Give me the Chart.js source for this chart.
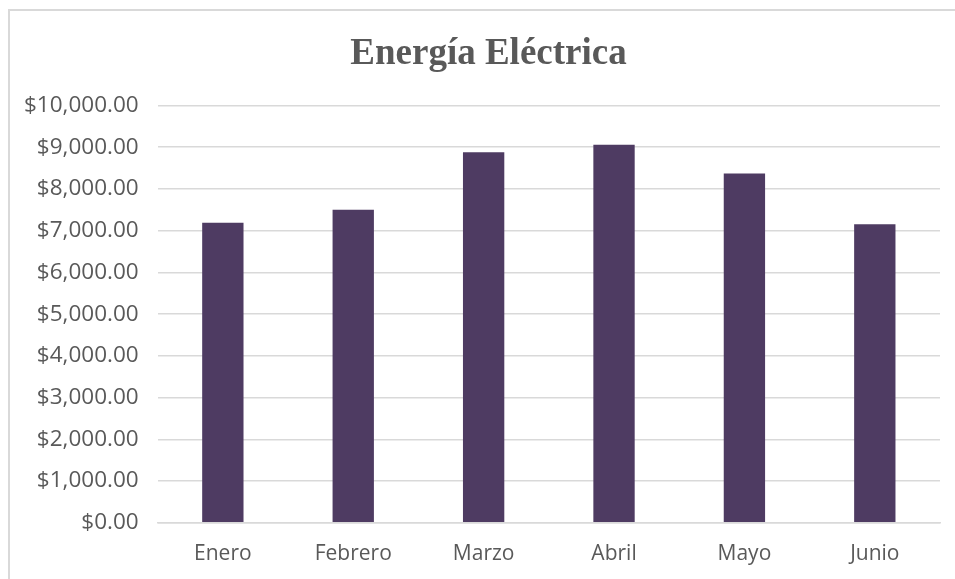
<!DOCTYPE html>
<html>
<head>
<meta charset="utf-8">
<script src="https://cdn.jsdelivr.net/npm/chart.js@4"></script>
<style>
  html, body { margin: 0; padding: 0; background: #fff; overflow: hidden; }
  #wrap { position: relative; width: 955px; height: 579px; }
  #box {
    position: absolute; left: 8px; top: 9px; width: 1000px; height: 700px;
    border-left: 2px solid #d9d9d9; border-top: 2px solid #d9d9d9;
  }
  canvas { position: absolute; left: 0; top: 0; }
</style>
</head>
<body>
<div id="wrap">
  <div id="box"></div>
  <canvas id="chart" width="955" height="579"></canvas>
</div>
<script>
// datos del gráfico
const meses = ["Enero", "Febrero", "Marzo", "Abril", "Mayo", "Junio"];
const energia = [7190, 7500, 8880, 9060, 8370, 7150];
const tituloGrafico = "Energía Eléctrica";

const fmtMoneda = (v) =>
  "$" + v.toLocaleString("en-US", { minimumFractionDigits: 2, maximumFractionDigits: 2 });

// el título del original está centrado sobre todo el recuadro, no sólo sobre el área de layout
const centrarTitulo = {
  id: "centrarTitulo",
  afterLayout(chart) {
    if (chart.titleBlock) {
      chart.titleBlock.left = 22;
      chart.titleBlock.right = 955;
    }
  },
};

const ctx = document.getElementById("chart").getContext("2d");
new Chart(ctx, {
  type: "bar",
  data: {
    labels: meses,
    datasets: [
      {
        label: tituloGrafico,
        data: energia,
        backgroundColor: "#4e3b62",
        categoryPercentage: 1,
        barPercentage: 0.317,
      },
    ],
  },
  plugins: [centrarTitulo],
  options: {
    responsive: false,
    animation: false,
    layout: { padding: { left: 5, right: 15, top: 0, bottom: -7 } },
    plugins: {
      legend: { display: false },
      tooltip: { enabled: false },
      title: {
        display: true,
        text: tituloGrafico,
        color: "#595959",
        font: { family: "'Liberation Serif', 'Times New Roman', serif", size: 37, weight: "bold" },
        padding: { top: 32, bottom: 29 },
      },
    },
    scales: {
      x: {
        grid: { display: false, drawTicks: false },
        border: { color: "#d9d9d9", width: 1.5 },
        ticks: {
          color: "#595959",
          font: { family: "'Open Sans', sans-serif", size: 21 },
          padding: 19,
        },
      },
      y: {
        min: 0,
        max: 10000,
        grid: { color: "#d9d9d9", lineWidth: 1.5, drawTicks: false },
        border: { display: false },
        ticks: {
          stepSize: 1000,
          color: "#595959",
          font: { family: "'Open Sans', sans-serif", size: 22.5 },
          padding: 19,
          callback: (v) => fmtMoneda(v),
        },
      },
    },
  },
});
</script>
</body>
</html>
